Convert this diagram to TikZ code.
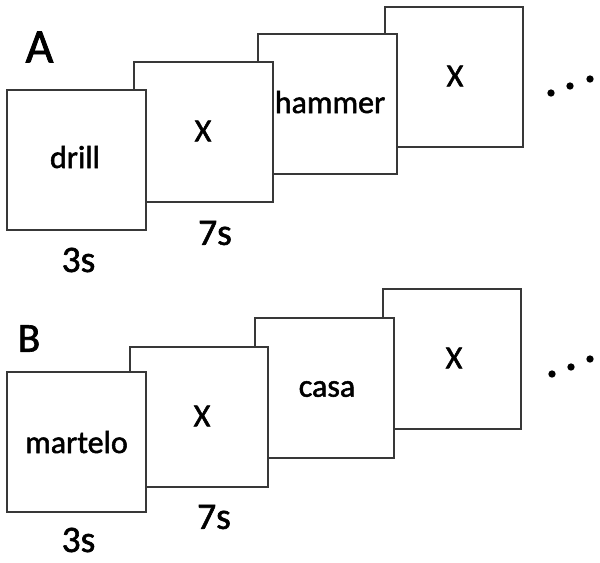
\documentclass[tikz,border=0pt]{standalone}
\usepackage{fontspec}
\setmainfont{Carlito}
\newfontfamily\medfont[FakeBold=1.6]{Carlito}
\begin{document}
\begin{tikzpicture}[x=0.75pt,y=-0.75pt,
  card/.style={draw=black!78,line width=1.5pt,fill=white,minimum width=104pt,minimum height=105pt,inner sep=0pt},
  word/.style={inner sep=0pt,font=\medfont\fontsize{24}{28}\selectfont},
  dur/.style={inner sep=0pt,font=\medfont\fontsize{28}{33}\selectfont},
  panel/.style={inner sep=0pt,font=\medfont\fontsize{36}{42}\selectfont},
  dot/.style={circle,fill=black,inner sep=0pt,minimum size=5.5pt}]
\useasboundingbox (0,0) rectangle (600,562);
% Panel A
\node[card] (a4) at (454,77) {};
\node[card] (a3) at (327.5,104) {};
\node[card] (a2) at (203.5,132) {};
\node[card] (a1) at (76.5,160) {};
\node[word] (t1) at (75,157) {drill};
\node[word] (t2) at (203,131) {X};
\node[word] (t3) at (330,102) {hammer};
\node[word] (t4) at (455,76) {X};
\node[dur] (d1) at (78.5,260) {3s};
\node[dur] (d2) at (215,233) {7s};
\node[panel] (pa) at (39.5,47) {A};
\node[dot] (e1) at (551,93) {};
\node[dot] (e2) at (570,86) {};
\node[dot] (e3) at (590,79) {};
% Panel B
\node[card] (b4) at (452,358.5) {};
\node[card] (b3) at (324.5,388) {};
\node[card] (b2) at (199,417) {};
\node[card] (b1) at (76.5,442) {};
\node[word] (u1) at (76.5,442) {martelo};
\node[word] (u2) at (202,416) {X};
\node[word] (u3) at (327,389) {casa};
\node[word] (u4) at (454,358) {X};
\node[dur] (f1) at (78.5,540) {3s};
\node[dur] (f2) at (214,517) {7s};
\node[panel,font=\medfont\fontsize{31}{36}\selectfont] (pb) at (29,338.5) {B};
\node[dot] (g1) at (552,374) {};
\node[dot] (g2) at (571,367) {};
\node[dot] (g3) at (590,359) {};
\end{tikzpicture}
\end{document}
